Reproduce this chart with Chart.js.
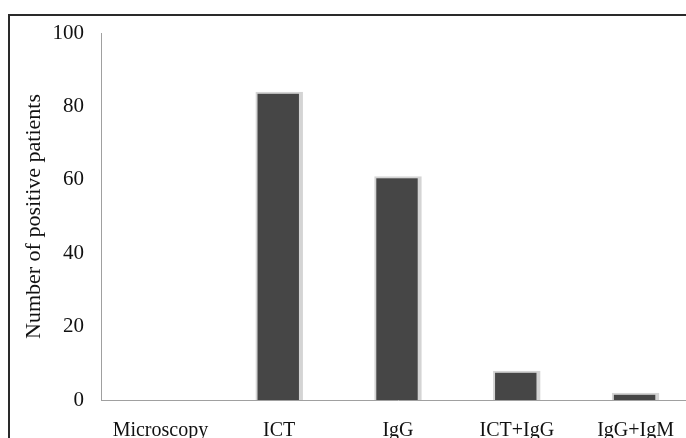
<!DOCTYPE html>
<html>
<head>
<meta charset="utf-8">
<script src="https://cdn.jsdelivr.net/npm/chart.js@4/dist/chart.umd.min.js"></script>
<style>
  html, body { margin: 0; padding: 0; background: #fff; overflow: hidden; width: 686px; height: 438px; }
  #frame { position: absolute; left: 8px; top: 14px; width: 720px; height: 500px;
           border-left: 2px solid #2a2a2a; border-top: 2px solid #2a2a2a; }
  #wrap { position: absolute; left: 0; top: 0; width: 700px; height: 438px; }
</style>
</head>
<body>
<div id="frame"></div>
<div id="wrap"><canvas id="c" width="700" height="438"></canvas></div>
<script>
const categories = ["Microscopy", "ICT", "IgG", "ICT+IgG", "IgG+IgM"];
const positives = [0, 84, 61, 8, 2];
const yTicks = [0, 20, 40, 60, 80, 100];

const family = "'Liberation Serif', 'Times New Roman', serif";

new Chart(document.getElementById('c'), {
  type: 'bar',
  data: {
    labels: categories,
    datasets: [{
      data: positives,
      backgroundColor: '#464646',
      borderColor: '#d4d4d4',
      borderWidth: { top: 2, left: 2, right: 4, bottom: 0 },
      borderSkipped: 'bottom',
      barPercentage: 0.4,
      categoryPercentage: 1.0
    }]
  },
  options: {
    responsive: false,
    animation: false,
    devicePixelRatio: 1,
    layout: { padding: { top: 33, right: 5, left: 0, bottom: 0 } },
    plugins: { legend: { display: false }, tooltip: { enabled: false } },
    scales: {
      x: {
        grid: { display: false },
        border: { display: true, color: '#a0a0a0', width: 1 },
        ticks: { font: { family: family, size: 20 }, color: '#111', padding: 11, maxRotation: 0 },
        afterFit: s => { s.height = 38; }
      },
      y: {
        min: 0, max: 100,
        afterBuildTicks: s => { s.ticks = yTicks.map(v => ({ value: v })); },
        grid: { display: false },
        border: { display: true, color: '#a0a0a0', width: 1 },
        ticks: { font: { family: family, size: 21 }, color: '#111', padding: 9 },
        title: {
          display: true,
          text: 'Number of positive patients',
          font: { family: family, size: 22 },
          color: '#111',
          padding: { top: 21, bottom: 0 }
        },
        afterFit: s => { s.width = 101; }
      }
    }
  }
});
</script>
</body>
</html>
